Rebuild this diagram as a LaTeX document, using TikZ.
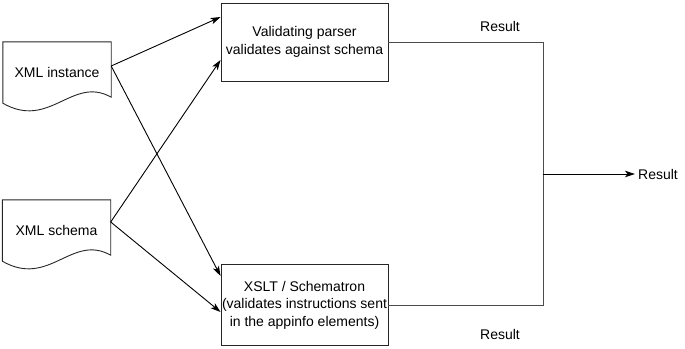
\documentclass[tikz,border=0pt]{standalone}
\usepackage{fontspec}
\setmainfont{Liberation Sans}
\usetikzlibrary{arrows.meta}
\begin{document}
\begin{tikzpicture}[x=1pt,y=-1pt,
  every node/.style={font=\fontsize{14}{17.5}\selectfont, inner sep=0pt},
  procbox/.style={draw=black!85, line width=0.9pt, align=center, minimum width=167pt},
  docarea/.style={minimum width=108pt, minimum height=61pt},
  docline/.style={draw=black!85, line width=0.9pt},
  feed/.style={line width=0.9pt, -{Stealth[length=10pt,width=6.5pt,inset=2.5pt]}},
  resline/.style={draw=black!70, line width=0.9pt},
  lbl/.style={}
]
\useasboundingbox (0,0) rectangle (685,348);

% documents
\node[docarea] (inst) at (57,72.5) {XML instance};
\node[docarea] (schema) at (56.5,230.5) {XML schema};
\draw[docline] (inst.south west) -- (inst.north west) -- (inst.north east) -- ([yshift=6pt]inst.south east)
  .. controls ([xshift=-39pt,yshift=28pt]inst.south east) and ([xshift=47pt,yshift=-27pt]inst.south west) .. (inst.south west) -- cycle;
\draw[docline] (schema.south west) -- (schema.north west) -- (schema.north east) -- ([yshift=6pt]schema.south east)
  .. controls ([xshift=-39pt,yshift=28pt]schema.south east) and ([xshift=47pt,yshift=-27pt]schema.south west) .. (schema.south west) -- cycle;

% process boxes
\node[procbox, minimum height=78pt] (vp) at (304.5,42) {Validating parser\\validates against schema};
\node[procbox, minimum height=81pt] (xs) at (304.5,305) {XSLT / Schematron\\(validates instructions sent\\in the appinfo elements)};

% feeds
\draw[feed] ([yshift=6.5pt]inst.east) -- ([yshift=25pt]vp.west);
\draw[feed] ([yshift=6.5pt]inst.east) -- ([yshift=29pt]xs.west);
\draw[feed] ([yshift=8.5pt]schema.east) -- ([yshift=-18pt]vp.west);
\draw[feed] ([yshift=8.5pt]schema.east) -- ([yshift=-7pt]xs.west);

% results
\coordinate (mid) at (543,174);
\draw[resline] (vp.east) -- (mid |- vp.east) -- (mid |- xs.east) -- (xs.east);
\node[lbl, anchor=west, inner sep=3pt] (res) at (635,174) {Result};
\draw[feed, draw=black] (mid) -- (res.west);
\node[lbl] (restop) at (500,26) {Result};
\node[lbl] (resbot) at (500,334) {Result};
\end{tikzpicture}
\end{document}
